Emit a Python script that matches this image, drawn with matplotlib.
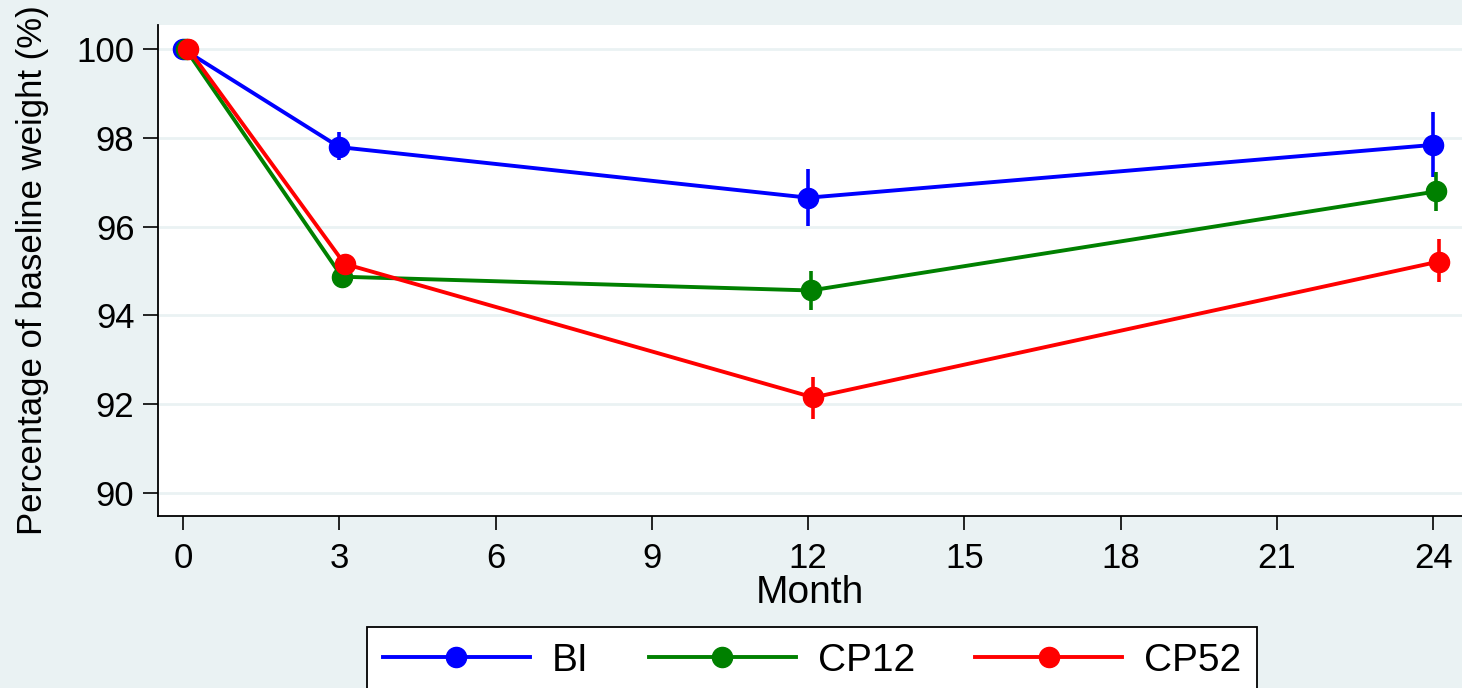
import matplotlib
matplotlib.use("Agg")
import matplotlib.pyplot as plt
import numpy as np

plt.rcParams['font.family'] = ['Liberation Sans', 'DejaVu Sans']

# ---- data ----
months = [0, 3, 12, 24]
series_names = ["BI", "CP12", "CP52"]
bi_mean = [100.0, 97.79, 96.65, 97.84]
bi_lo = [100.0, 97.50, 96.02, 97.12]
bi_hi = [100.0, 98.14, 97.30, 98.57]
cp12_mean = [100.0, 94.87, 94.56, 96.79]
cp12_lo = [100.0, 94.62, 94.11, 96.34]
cp12_hi = [100.0, 95.10, 95.01, 97.24]
cp52_mean = [100.0, 95.16, 92.15, 95.21]
cp52_lo = [100.0, 94.96, 91.66, 94.74]
cp52_hi = [100.0, 95.36, 92.62, 95.71]
xticks = [0, 3, 6, 9, 12, 15, 18, 21, 24]
yticks = [90, 92, 94, 96, 98, 100]

# ---- style ----
bg = '#EAF2F3'
colors = ['#0000FF', '#008000', '#FF0000']
dodge = [0.0, 0.05, 0.10]

fig = plt.figure(figsize=(14.62, 6.88), dpi=100, facecolor=bg)
ax = fig.add_axes([158/1462, 1-516/688, 1-158/1462, (516-25)/688])
ax.set_facecolor('white')

for yt in yticks:
    ax.axhline(yt, color=bg, lw=2.0, zorder=0)

means = [bi_mean, cp12_mean, cp52_mean]
los = [bi_lo, cp12_lo, cp52_lo]
his = [bi_hi, cp12_hi, cp52_hi]
for i, name in enumerate(series_names):
    x = np.array(months, dtype=float) + dodge[i]
    m = np.array(means[i]); lo = np.array(los[i]); hi = np.array(his[i])
    ax.vlines(x, lo, hi, color=colors[i], lw=2.6, zorder=2 + i)
    ax.plot(x, m, color=colors[i], lw=2.8, marker='o', markersize=14.5,
            label=name, zorder=2 + i)

ax.set_xlim(-0.48, 24.55)
ax.set_ylim(89.48, 100.54)
ax.set_xticks(xticks)
ax.set_yticks(yticks)
ax.tick_params(axis='x', labelsize=25, length=10, width=1.2, pad=9, direction='out')
ax.tick_params(axis='y', labelsize=25, length=11, width=1.2, pad=6, direction='out')
for s in ['top', 'right']:
    ax.spines[s].set_visible(False)
for s in ['left', 'bottom']:
    ax.spines[s].set_linewidth(1.3)

ax.set_xlabel('Month', fontsize=28)
ax.set_ylabel('Percentage of baseline weight (%)', fontsize=25)
ax.xaxis.set_label_coords(0.5, (516-575)/491)
ax.yaxis.set_label_coords((49-158)/1304, 0.5)

leg = fig.legend(loc='upper left', bbox_to_anchor=(367/1462, 1-627/688),
                 ncol=3, fontsize=28, frameon=True, fancybox=False,
                 edgecolor='black', facecolor='white', framealpha=1,
                 handlelength=3.78, handletextpad=0.57, columnspacing=1.55,
                 borderpad=0.4, numpoints=1, borderaxespad=0)
leg.get_frame().set_linewidth(1.3)

fig.savefig('out.png', dpi=100, facecolor=bg)
